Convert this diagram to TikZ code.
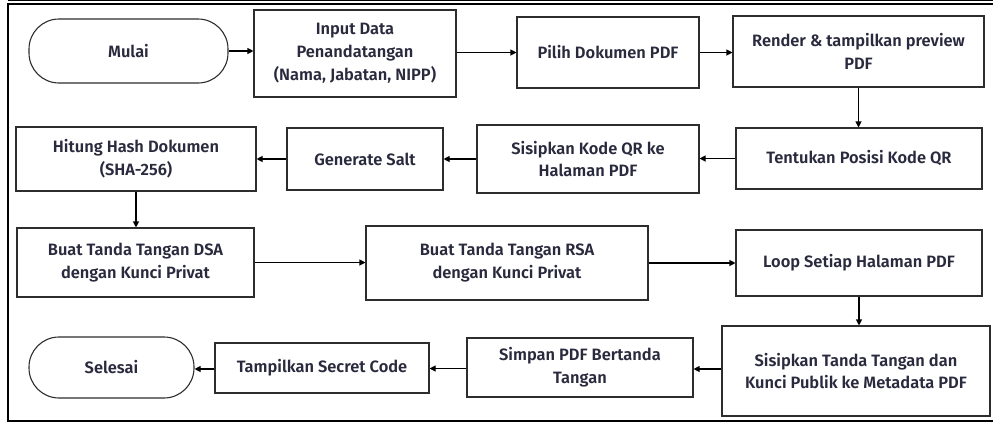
\documentclass[tikz,border=0pt]{standalone}
\usepackage{fontspec}
\setmainfont{Fira Sans}[UprightFont=* SemiBold]
\usetikzlibrary{arrows.meta}
\definecolor{txt}{RGB}{42,42,62}
\definecolor{edge}{RGB}{45,45,45}
\tikzset{
  box/.style={draw=edge, line width=1.1pt, fill=white, align=center, text=txt,
    font=\fontsize{16.5}{23}\selectfont, inner sep=0pt},
  term/.style={box, rounded corners=30bp},
  conn/.style={draw=black, line width=1.1pt, -{Triangle[length=6bp,width=6bp]}},
}
\begin{document}
\begin{tikzpicture}[x=1bp,y=-1bp]
\useasboundingbox (0,0) rectangle (993,423);
% frame
\draw[black, line width=0.8pt] (8,0.6) -- (993,0.6);
\draw[black, line width=2pt] (8,420.5) -- (8,3.5) -- (993,3.5);
\draw[black, line width=2pt] (7,420.5) -- (993,420.5);
% row 1
\node[term, minimum width=199bp, minimum height=64bp] (mulai) at (128.5,51) {Mulai};
\node[box, minimum width=202bp, minimum height=87bp] (input) at (355,53.5) {Input Data\\Penandatangan\\(Nama, Jabatan, NIPP)};
\node[box, minimum width=182bp, minimum height=71bp] (pilih) at (608,52.5) {Pilih Dokumen PDF};
\node[box, minimum width=251bp, minimum height=71bp] (render) at (858.5,51.5) {Render \& tampilkan preview\\PDF};
% row 2
\node[box, minimum width=240bp, minimum height=64bp] (hash) at (136,159) {Hitung Hash Dokumen\\(SHA-256)};
\node[box, minimum width=156bp, minimum height=62bp] (salt) at (365,159) {Generate Salt};
\node[box, minimum width=222bp, minimum height=68bp] (sisqr) at (588,159) {Sisipkan Kode QR ke\\Halaman PDF};
\node[box, minimum width=246bp, minimum height=61bp] (posisi) at (859,158.5) {Tentukan Posisi Kode QR};
% row 3
\node[box, minimum width=237bp, minimum height=69bp] (dsa) at (135.5,262.5) {Buat Tanda Tangan DSA\\dengan Kunci Privat};
\node[box, minimum width=282bp, minimum height=74bp] (rsa) at (507,263) {Buat Tanda Tangan RSA\\dengan Kunci Privat};
\node[box, minimum width=246bp, minimum height=66bp] (loop) at (859,263) {Loop Setiap Halaman PDF};
% row 4
\node[term, minimum width=165bp, minimum height=61bp] (selesai) at (111.5,367.5) {Selesai};
\node[box, minimum width=214bp, minimum height=50bp] (tampil) at (322,368) {Tampilkan Secret Code};
\node[box, minimum width=226bp, minimum height=59bp] (simpan) at (580,367.5) {Simpan PDF Bertanda\\Tangan};
\node[box, minimum width=268bp, minimum height=90bp] (sistt) at (856,371) {Sisipkan Tanda Tangan dan\\Kunci Publik ke Metadata PDF};
% connectors
\draw[conn] (mulai.east) -- (input.west |- mulai.east);
\draw[conn] (input.east |- pilih.west) -- (pilih.west);
\draw[conn] (pilih.east) -- (render.west |- pilih.east);
\draw[conn] (render.south) -- (posisi.north -| render.south);
\draw[conn] (posisi.west) -- (sisqr.east |- posisi.west);
\draw[conn] (sisqr.west) -- (salt.east |- sisqr.west);
\draw[conn] (salt.west) -- (hash.east |- salt.west);
\draw[conn] (hash.south) -- (dsa.north -| hash.south);
\draw[conn] (dsa.east) -- (rsa.west |- dsa.east);
\draw[conn] (rsa.east) -- (loop.west |- rsa.east);
\draw[conn] (loop.south) -- (sistt.north -| loop.south);
\draw[conn] (sistt.west |- simpan.east) ++(0,1.5) coordinate (a1) (a1) -- (simpan.east |- a1);
\draw[conn] (simpan.west) ++(0,1) coordinate (a2) (a2) -- (tampil.east |- a2);
\draw[conn] (tampil.west) ++(0,1) coordinate (a3) (a3) -- (selesai.east |- a3);
\end{tikzpicture}
\end{document}
